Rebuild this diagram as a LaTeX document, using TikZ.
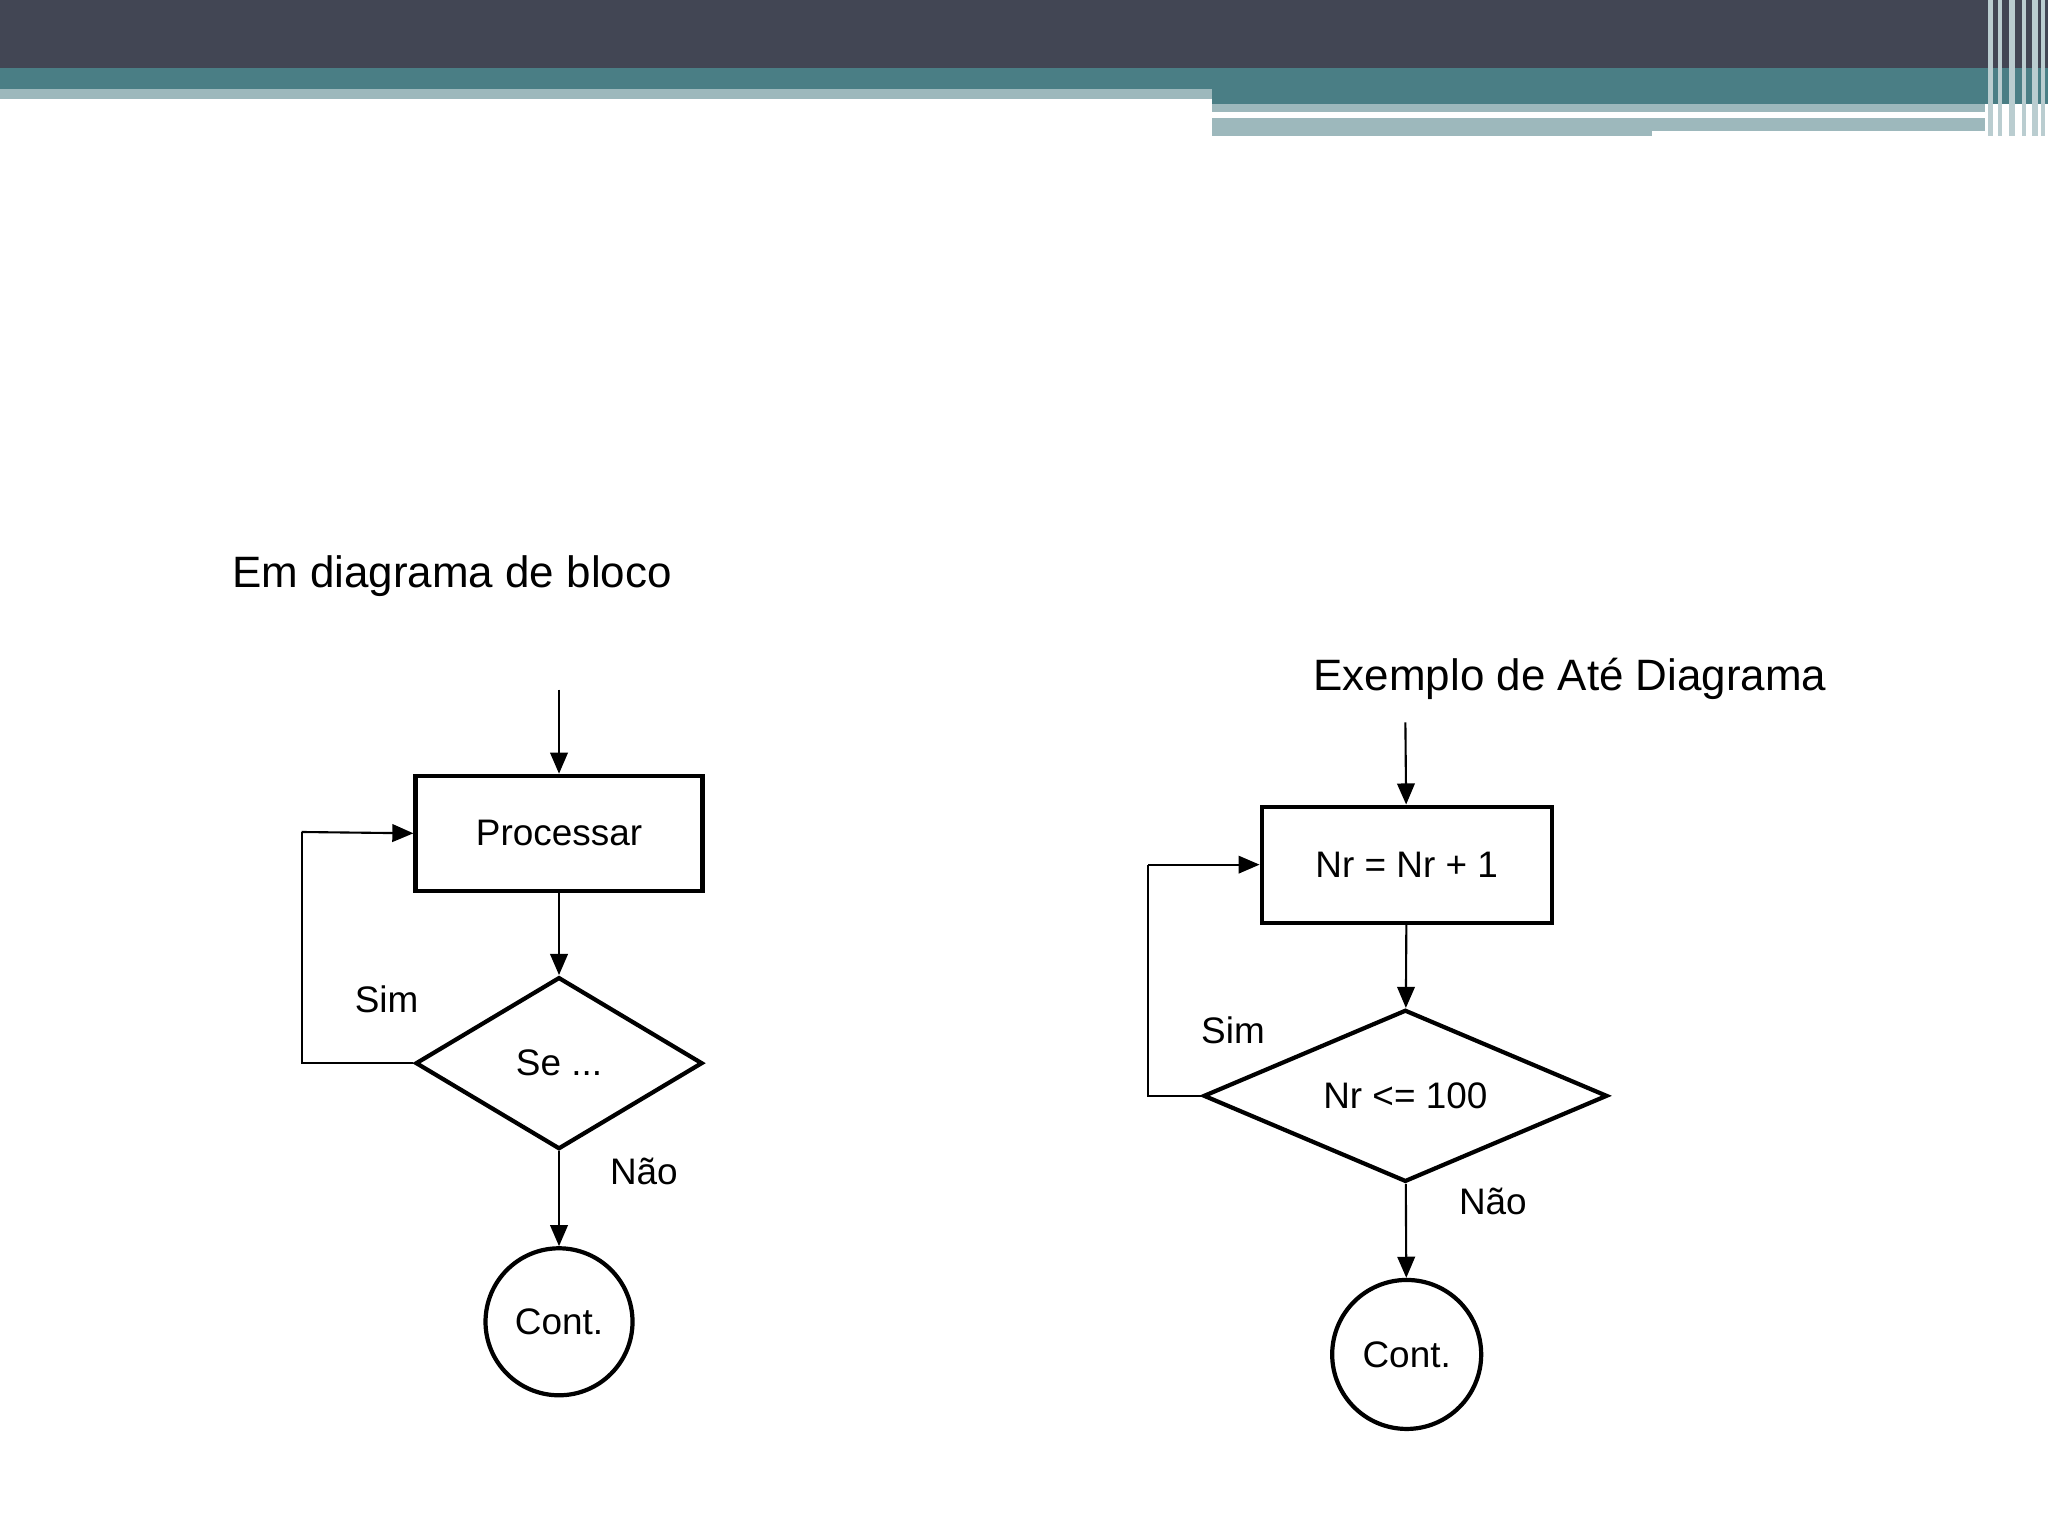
\documentclass[tikz,border=0pt]{standalone}
\usepackage{fontspec}
\setmainfont{Liberation Sans}
\usetikzlibrary{shapes.geometric,arrows.meta}
\definecolor{dark}{HTML}{424654}
\definecolor{teal}{HTML}{4A7E85}
\definecolor{lteal}{HTML}{9DB8BC}
\begin{document}
\begin{tikzpicture}[x=0.01306cm,y=-0.01306cm,
  box/.style={draw,line width=1.2pt,minimum width=2.87cm,minimum height=1.15cm,font=\fontsize{10.5}{12}\selectfont},
  dia/.style={draw,line width=1.2pt,diamond,aspect=1.67,inner sep=0pt,font=\fontsize{10.5}{12}\selectfont},
  circ/.style={draw,line width=1.2pt,circle,minimum size=1.47cm,inner sep=0pt,font=\fontsize{10.5}{12}\selectfont},
  lab/.style={font=\fontsize{10.5}{12}\selectfont},
  ttl/.style={font=\fontsize{12.5}{14}\selectfont},
  con/.style={line width=0.6pt,-{Triangle[length=6pt,width=5pt]}},
  ln/.style={line width=0.6pt}]
\useasboundingbox (0,0) rectangle (1568,1176);
% header
\fill[dark] (0,0) rectangle (1568,52);
\fill[teal] (0,52) rectangle (1568,68);
\fill[lteal] (0,68) rectangle (928,76);
\fill[teal] (928,68) rectangle (1568,80);
\fill[lteal] (928,80) rectangle (1520,86);
\fill[lteal] (928,90) rectangle (1520,104);
\fill[white] (928,86) rectangle (1452,90);
\fill[white] (1265,100) rectangle (1520,106);
\foreach \x/\w in {1522/4,1530/3,1538/5,1548/3,1556/4,1563/3}
  \fill[lteal!70!white] (\x,0) rectangle (\x+\w,104);
% left diagram
\node[ttl] at (346,441) {Em diagrama de bloco};
\coordinate (s1) at (428,528);
\node[box,minimum width=2.87cm] (p1) at (428,638) {Processar};
\node[dia,minimum width=2.87cm,minimum height=1.72cm] (d1) at (428,814) {Se ...};
\node[circ] (c1) at (428,1012) {Cont.};
\draw[con] (s1) -- (p1);
\draw[con] (p1) -- (d1);
\draw[con] (d1) -- (c1);
\coordinate (l1) at (231,814);
\coordinate (l2) at (231,637);
\draw[ln] (d1.west) -- (l1) -- (l2);
\draw[con] (l2) -- (p1.west);
\node[lab] at (296,765) {Sim};
\node[lab] at (493,897) {Não};
% right diagram
\node[ttl] at (1202,520) {Exemplo de Até Diagrama};
\coordinate (s2) at (1076,553);
\node[box,minimum width=2.90cm,minimum height=1.16cm] (p2) at (1077,662) {Nr = Nr + 1};
\node[dia,minimum width=4.04cm,minimum height=1.72cm,aspect=2.3] (d2) at (1076,839) {Nr <= 100};
\node[circ,minimum size=1.49cm] (c2) at (1077,1037) {Cont.};
\draw[con] (s2) -- (p2);
\draw[con] (p2) -- (d2);
\draw[con] (d2) -- (c2);
\coordinate (r1) at (879,839);
\coordinate (r2) at (879,662);
\draw[ln] (d2.west) -- (r1) -- (r2);
\draw[con] (r2) -- (p2.west);
\node[lab] at (944,789) {Sim};
\node[lab] at (1143,920) {Não};
\end{tikzpicture}
\end{document}
